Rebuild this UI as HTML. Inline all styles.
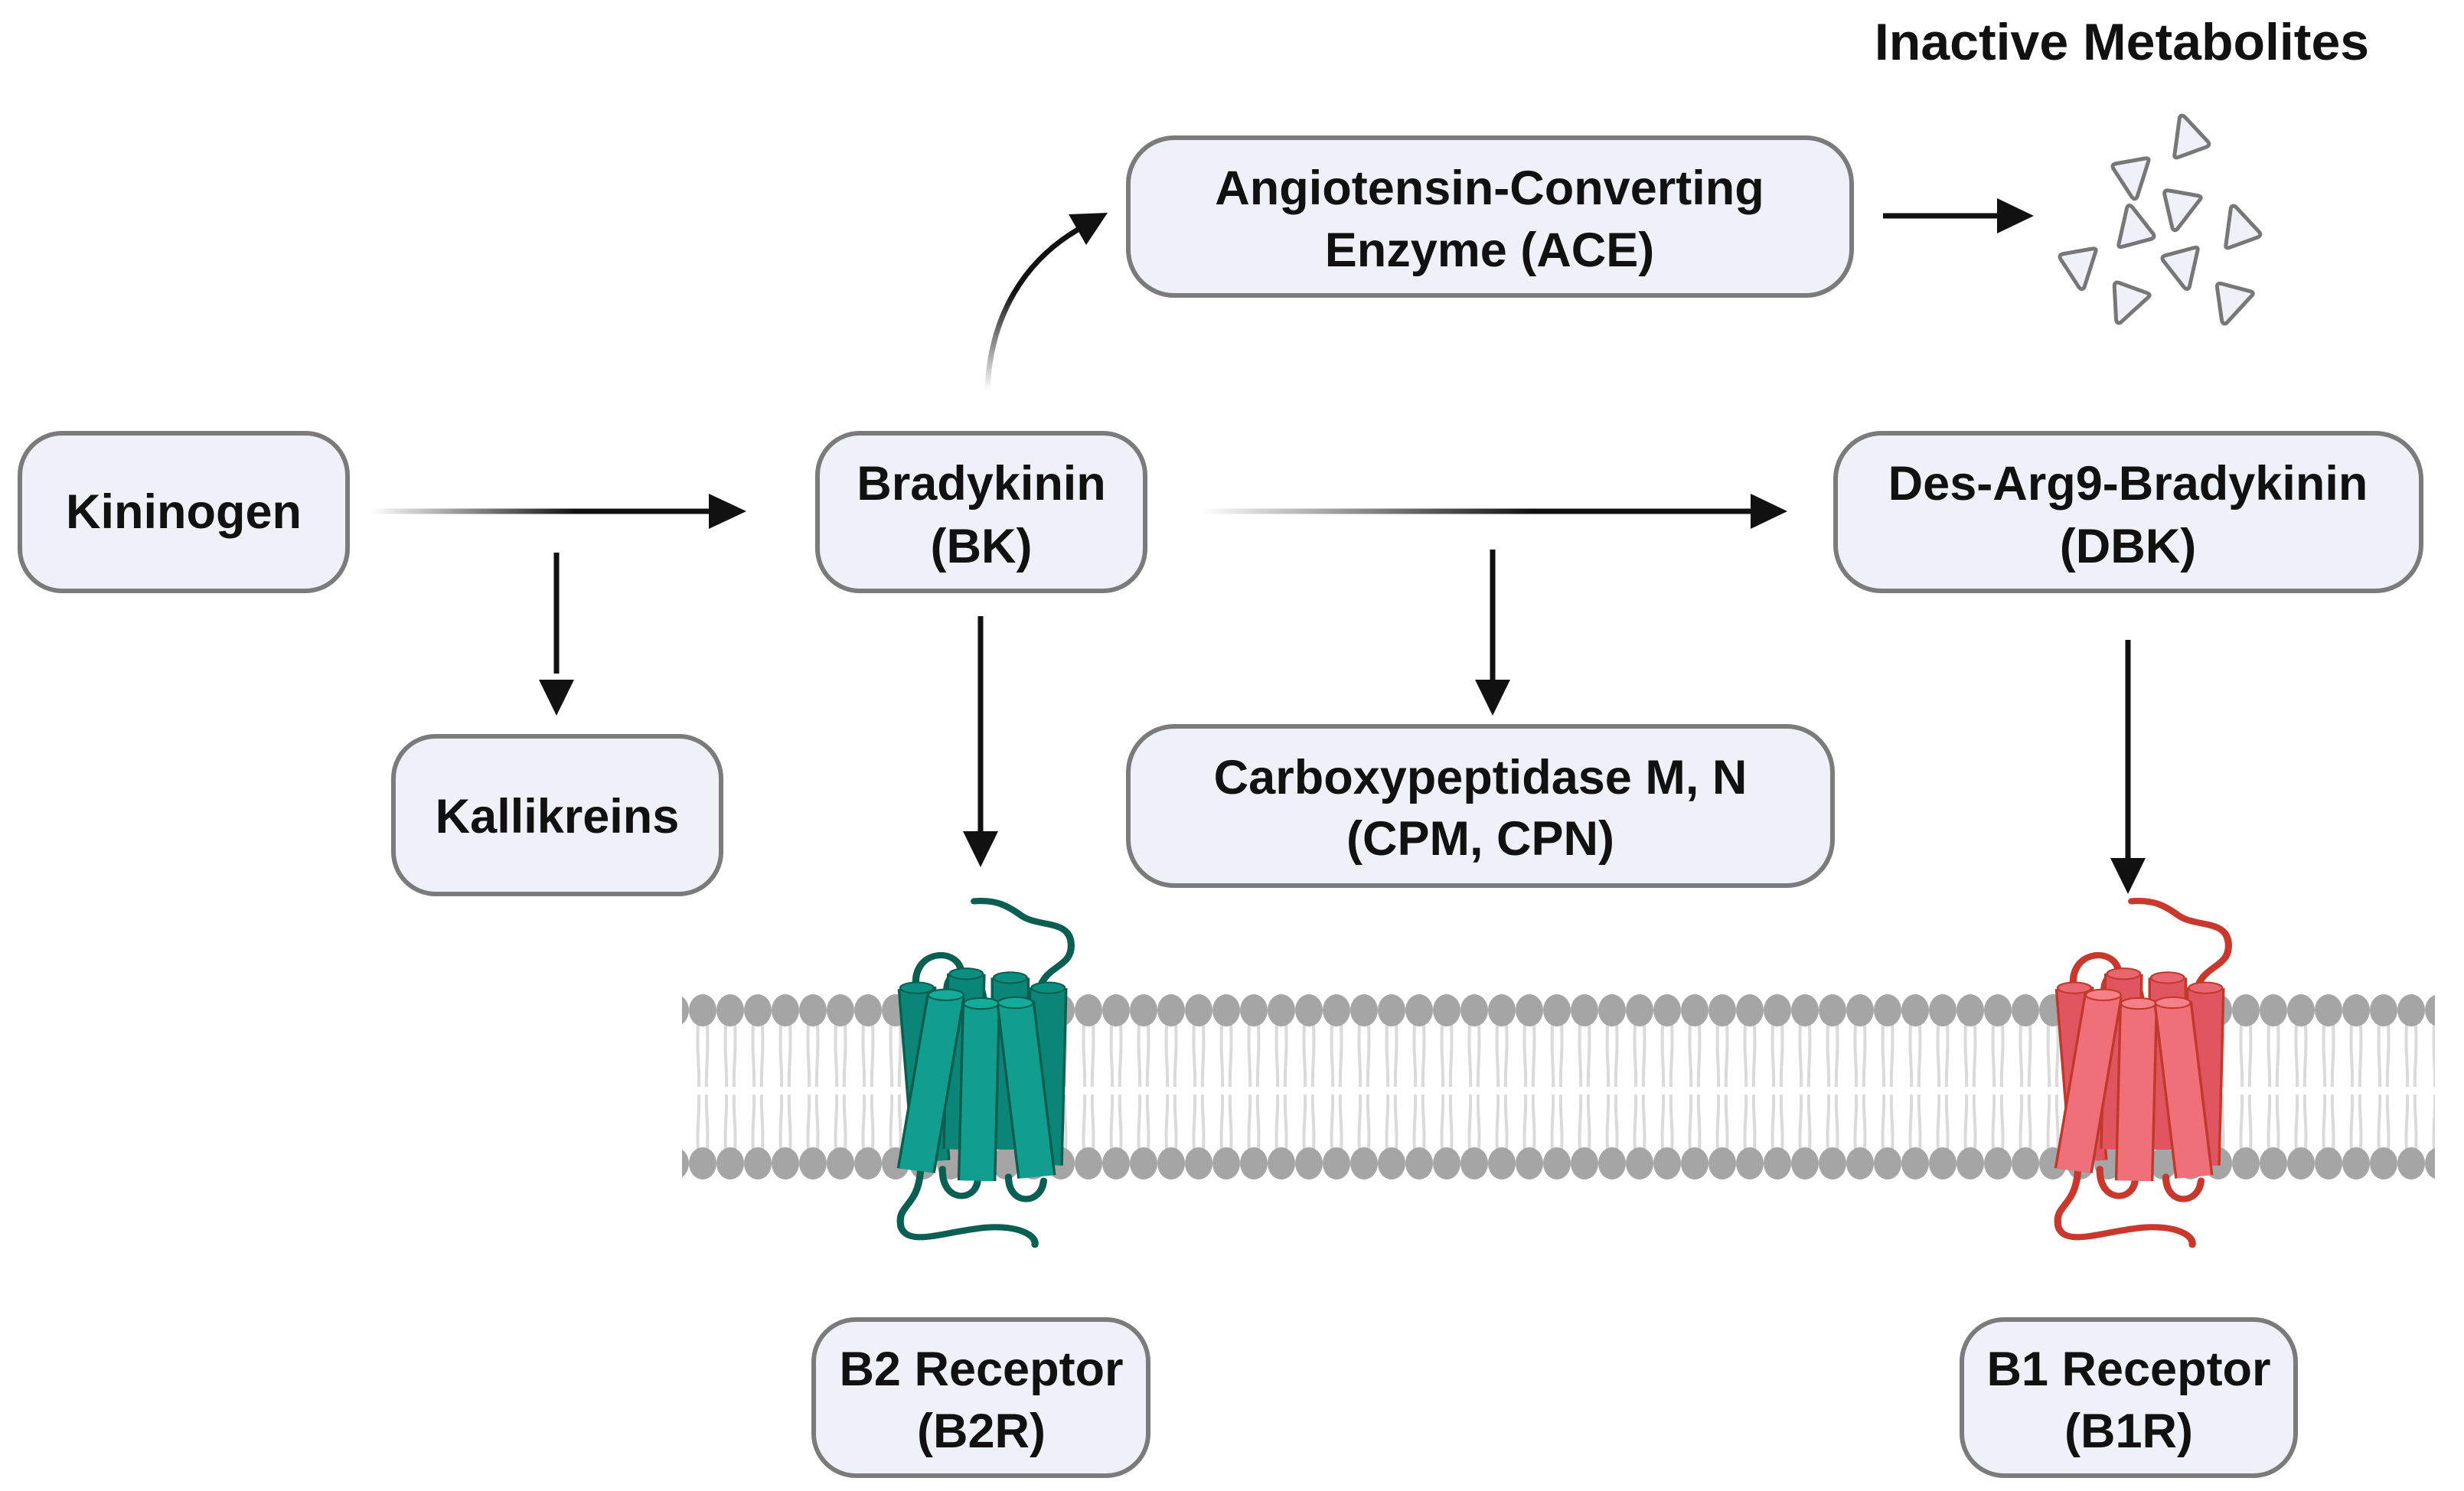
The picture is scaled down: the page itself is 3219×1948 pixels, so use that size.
<!DOCTYPE html>
<html><head><meta charset="utf-8"><style>
html,body{margin:0;padding:0;background:#fff}
svg{display:block}
text{font-family:"Liberation Sans",sans-serif;font-weight:bold;font-size:63px;fill:#111;text-anchor:middle}
</style></head><body>
<svg width="3219" height="1948" viewBox="0 0 3219 1948" xmlns="http://www.w3.org/2000/svg">
<defs>
<pattern id="mem" x="0" y="1295" width="36" height="260" patternUnits="userSpaceOnUse">
<g fill="none" stroke="#dadada" stroke-width="4">
<path d="M12,44 C10,80 14,100 13,125"/><path d="M24,44 C26,80 22,100 23,125"/>
<path d="M13,135 C14,160 10,180 12,206"/><path d="M23,135 C22,160 26,180 24,206"/>
</g>
<ellipse cx="18" cy="25" rx="18" ry="21" fill="#a5a5a5"/>
<ellipse cx="18" cy="225" rx="18" ry="21" fill="#a5a5a5"/>
</pattern>
<linearGradient id="g1" gradientUnits="userSpaceOnUse" x1="485" y1="0" x2="930" y2="0"><stop offset="0" stop-color="#fff"/><stop offset="0.6" stop-color="#111"/></linearGradient>
<linearGradient id="g2" gradientUnits="userSpaceOnUse" x1="1570" y1="0" x2="2290" y2="0"><stop offset="0" stop-color="#fff"/><stop offset="0.6" stop-color="#111"/></linearGradient>
<linearGradient id="gv" x1="0" y1="1" x2="0" y2="0"><stop offset="0" stop-color="#fff"/><stop offset="0.6" stop-color="#111"/></linearGradient>
<g id="tri"><path d="M0,-28 Q4,-32 7,-26 L24,14 Q26,20 19,20 L-19,20 Q-26,20 -22,14 Z" fill="#eef2f8" stroke="#777" stroke-width="5" stroke-linejoin="round"/></g>
<g id="rec">
<g fill="none" stroke="var(--lp)" stroke-width="8" stroke-linecap="round">
<path d="M1323,1296 C1330,1262 1362,1268 1359,1235 C1356,1205 1322,1216 1302,1200 C1285,1186 1272,1180 1249,1182"/>
<path d="M1183,1292 C1178,1245 1228,1240 1234,1270"/>
<path d="M1218,1302 C1214,1262 1258,1262 1260,1312"/>
<path d="M1288,1305 C1288,1270 1300,1275 1293,1310"/>
<path d="M1213,1525 C1212,1568 1250,1568 1253,1540"/>
<path d="M1288,1535 C1288,1572 1325,1572 1328,1540"/>
<path d="M1188,1528 C1185,1575 1160,1570 1166,1600 C1175,1625 1215,1605 1262,1600 C1300,1597 1320,1610 1318,1622"/>
</g>
</g>
</defs>

<rect x="891" y="1295" width="2290" height="260" fill="url(#mem)"/>

<g fill="#eef2f8" stroke="#7b7b7b" stroke-width="6">
<rect x="26" y="566" width="428" height="206" rx="55"/>
<rect x="514" y="962" width="428" height="206" rx="55"/>
<rect x="1068" y="566" width="428" height="206" rx="55"/>
<rect x="1474" y="180" width="945" height="206" rx="60"/>
<rect x="2398" y="566" width="765" height="206" rx="60"/>
<rect x="1474" y="949" width="920" height="208" rx="60"/>
<rect x="1063" y="1724" width="437" height="204" rx="55"/>
<rect x="2563" y="1724" width="436" height="204" rx="55"/>
</g>

<text x="240" y="690">Kininogen</text>
<text x="728" y="1088">Kallikreins</text>
<text x="1282" y="653">Bradykinin</text><text x="1282" y="735">(BK)</text>
<text x="1946" y="267">Angiotensin-Converting</text><text x="1946" y="348">Enzyme (ACE)</text>
<text x="2780" y="653">Des-Arg9-Bradykinin</text><text x="2780" y="735">(DBK)</text>
<text x="1934" y="1037">Carboxypeptidase M, N</text><text x="1934" y="1117">(CPM, CPN)</text>
<text x="1282" y="1810">B2 Receptor</text><text x="1282" y="1891">(B2R)</text>
<text x="2781" y="1810">B1 Receptor</text><text x="2781" y="1891">(B1R)</text>
<text x="2772" y="78" style="font-size:68px">Inactive Metabolites</text>

<g stroke-width="7" fill="none">
<line x1="485" y1="668" x2="930" y2="668" stroke="url(#g1)"/>
<line x1="1570" y1="668" x2="2290" y2="668" stroke="url(#g2)"/>
<line x1="2460" y1="282" x2="2615" y2="282" stroke="#111"/>
<line x1="727" y1="722" x2="727" y2="880" stroke="#111"/>
<line x1="1950" y1="718" x2="1950" y2="900" stroke="#111"/>
<line x1="1281" y1="805" x2="1281" y2="1090" stroke="#111"/>
<line x1="2780" y1="836" x2="2780" y2="1125" stroke="#111"/>
<path d="M1290,510 C1293,420 1333,340 1417,295" stroke="url(#gv)"/>
</g>
<g fill="#111">
<polygon points="975,668 926,645 926,691"/>
<polygon points="2335,668 2287,645 2287,691"/>
<polygon points="2657,282 2609,259 2609,305"/>
<polygon points="727,935 704,888 750,888"/>
<polygon points="1950,935 1927,888 1973,888"/>
<polygon points="1281,1133 1258,1086 1304,1086"/>
<polygon points="2780,1168 2757,1121 2803,1121"/>
<polygon points="1447,278 1396,280 1419,320"/>
</g>

<use href="#tri" transform="translate(2857,180) rotate(-20)"/>
<use href="#tri" transform="translate(2787,230) rotate(170)"/>
<use href="#tri" transform="translate(2849,272) rotate(190)"/>
<use href="#tri" transform="translate(2786,298) rotate(-15)"/>
<use href="#tri" transform="translate(2924,298) rotate(-20)"/>
<use href="#tri" transform="translate(2718,348) rotate(170)"/>
<use href="#tri" transform="translate(2853,348) rotate(165)"/>
<use href="#tri" transform="translate(2780,395) rotate(200)"/>
<use href="#tri" transform="translate(2916,395) rotate(195)"/>

<!-- B2 -->
<g transform="translate(1283,1410) scale(1.15,1.02) translate(-1258,-1410)">
<use href="#rec" style="--lp:#0b5f52"/>
<g stroke-linecap="butt">
<line x1="1184" y1="1293" x2="1200" y2="1515" stroke="#0a5e50" stroke-width="44"/><line x1="1184" y1="1293" x2="1200" y2="1515" stroke="#0b8577" stroke-width="38"/>
<ellipse cx="1184" cy="1293" rx="19" ry="7" fill="#0b8e80" stroke="#0a5e50" stroke-width="2"/>
<line x1="1240" y1="1275" x2="1235" y2="1500" stroke="#0a5e50" stroke-width="44"/><line x1="1240" y1="1275" x2="1235" y2="1500" stroke="#0b8577" stroke-width="38"/>
<ellipse cx="1240" cy="1275" rx="19" ry="7" fill="#0b8e80" stroke="#0a5e50" stroke-width="2"/>
<line x1="1290" y1="1280" x2="1290" y2="1500" stroke="#0a5e50" stroke-width="44"/><line x1="1290" y1="1280" x2="1290" y2="1500" stroke="#0b8577" stroke-width="38"/>
<ellipse cx="1290" cy="1280" rx="19" ry="7" fill="#0b8e80" stroke="#0a5e50" stroke-width="2"/>
<line x1="1333" y1="1293" x2="1328" y2="1520" stroke="#0a5e50" stroke-width="44"/><line x1="1333" y1="1293" x2="1328" y2="1520" stroke="#0b8577" stroke-width="38"/>
<ellipse cx="1333" cy="1293" rx="19" ry="7" fill="#0b8e80" stroke="#0a5e50" stroke-width="2"/>
<line x1="1217" y1="1302" x2="1183" y2="1527" stroke="#0a5e50" stroke-width="44"/><line x1="1217" y1="1302" x2="1183" y2="1527" stroke="#119e8e" stroke-width="38"/>
<ellipse cx="1217" cy="1302" rx="20" ry="7" fill="#15ab9a" stroke="#0a5e50" stroke-width="2"/>
<line x1="1257" y1="1313" x2="1252" y2="1540" stroke="#0a5e50" stroke-width="44"/><line x1="1257" y1="1313" x2="1252" y2="1540" stroke="#119e8e" stroke-width="38"/>
<ellipse cx="1257" cy="1313" rx="20" ry="7" fill="#15ab9a" stroke="#0a5e50" stroke-width="2"/>
<line x1="1296" y1="1312" x2="1320" y2="1535" stroke="#0a5e50" stroke-width="44"/><line x1="1296" y1="1312" x2="1320" y2="1535" stroke="#119e8e" stroke-width="38"/>
<ellipse cx="1296" cy="1312" rx="20" ry="7" fill="#15ab9a" stroke="#0a5e50" stroke-width="2"/>
</g>
</g>

<!-- B1 -->
<g transform="translate(2795,1410) scale(1.15,1.02) translate(-1258,-1410)">
<use href="#rec" style="--lp:#c9382c"/>
<g stroke-linecap="butt">
<line x1="1184" y1="1293" x2="1200" y2="1515" stroke="#c0392b" stroke-width="44"/><line x1="1184" y1="1293" x2="1200" y2="1515" stroke="#e0555f" stroke-width="38"/>
<ellipse cx="1184" cy="1293" rx="19" ry="7" fill="#e86670" stroke="#c0392b" stroke-width="2"/>
<line x1="1240" y1="1275" x2="1235" y2="1500" stroke="#c0392b" stroke-width="44"/><line x1="1240" y1="1275" x2="1235" y2="1500" stroke="#e0555f" stroke-width="38"/>
<ellipse cx="1240" cy="1275" rx="19" ry="7" fill="#e86670" stroke="#c0392b" stroke-width="2"/>
<line x1="1290" y1="1280" x2="1290" y2="1500" stroke="#c0392b" stroke-width="44"/><line x1="1290" y1="1280" x2="1290" y2="1500" stroke="#e0555f" stroke-width="38"/>
<ellipse cx="1290" cy="1280" rx="19" ry="7" fill="#e86670" stroke="#c0392b" stroke-width="2"/>
<line x1="1333" y1="1293" x2="1328" y2="1520" stroke="#c0392b" stroke-width="44"/><line x1="1333" y1="1293" x2="1328" y2="1520" stroke="#e0555f" stroke-width="38"/>
<ellipse cx="1333" cy="1293" rx="19" ry="7" fill="#e86670" stroke="#c0392b" stroke-width="2"/>
<line x1="1217" y1="1302" x2="1183" y2="1527" stroke="#c0392b" stroke-width="44"/><line x1="1217" y1="1302" x2="1183" y2="1527" stroke="#f0707a" stroke-width="38"/>
<ellipse cx="1217" cy="1302" rx="20" ry="7" fill="#f58088" stroke="#c0392b" stroke-width="2"/>
<line x1="1257" y1="1313" x2="1252" y2="1540" stroke="#c0392b" stroke-width="44"/><line x1="1257" y1="1313" x2="1252" y2="1540" stroke="#f0707a" stroke-width="38"/>
<ellipse cx="1257" cy="1313" rx="20" ry="7" fill="#f58088" stroke="#c0392b" stroke-width="2"/>
<line x1="1296" y1="1312" x2="1320" y2="1535" stroke="#c0392b" stroke-width="44"/><line x1="1296" y1="1312" x2="1320" y2="1535" stroke="#f0707a" stroke-width="38"/>
<ellipse cx="1296" cy="1312" rx="20" ry="7" fill="#f58088" stroke="#c0392b" stroke-width="2"/>
</g>
</g>
</svg>
</body></html>
